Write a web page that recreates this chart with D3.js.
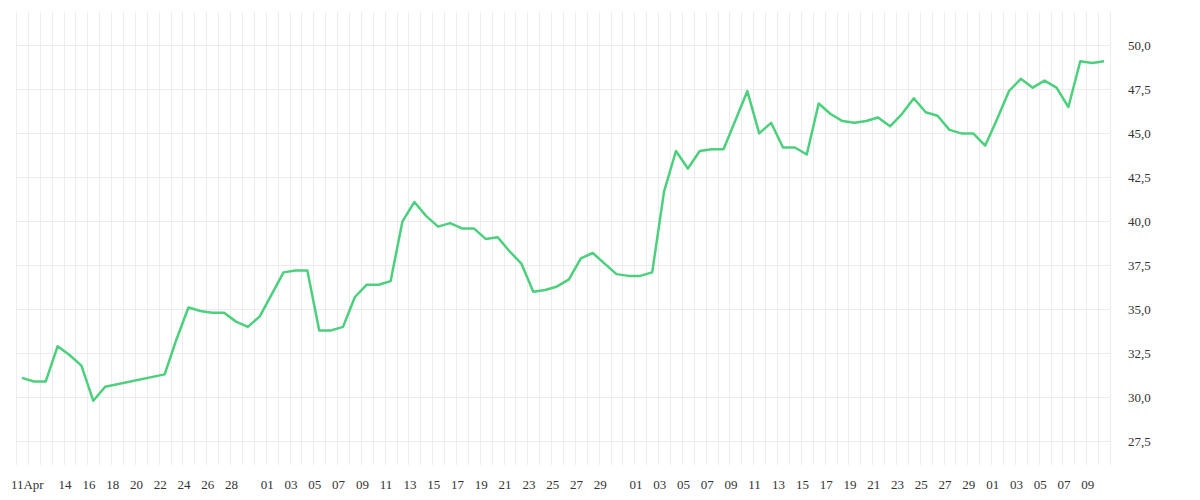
<!DOCTYPE html>
<html>
<head>
<meta charset="utf-8">
<script src="https://cdn.jsdelivr.net/npm/d3@7"></script>
<style>
  body { margin: 0; background: #fff; }
  text { font-family: "Liberation Serif", "DejaVu Serif", serif; font-size: 13px; fill: #333; }
</style>
</head>
<body>
<svg id="chart" width="1200" height="500"></svg>
<script>
const dates = [
    "2016-04-11", "2016-04-12", "2016-04-13", "2016-04-14", "2016-04-15", "2016-04-16", "2016-04-17", "2016-04-18",
    "2016-04-23", "2016-04-24", "2016-04-25", "2016-04-26", "2016-04-27", "2016-04-28", "2016-04-29", "2016-04-30",
    "2016-05-01", "2016-05-03", "2016-05-04", "2016-05-05", "2016-05-06", "2016-05-07", "2016-05-08", "2016-05-09",
    "2016-05-10", "2016-05-11", "2016-05-12", "2016-05-13", "2016-05-14", "2016-05-15", "2016-05-16", "2016-05-17",
    "2016-05-18", "2016-05-19", "2016-05-20", "2016-05-21", "2016-05-22", "2016-05-23", "2016-05-24", "2016-05-25",
    "2016-05-26", "2016-05-27", "2016-05-28", "2016-05-29", "2016-05-30", "2016-05-31", "2016-06-01", "2016-06-02",
    "2016-06-03", "2016-06-04", "2016-06-05", "2016-06-06", "2016-06-07", "2016-06-08", "2016-06-09", "2016-06-11",
    "2016-06-12", "2016-06-13", "2016-06-14", "2016-06-15", "2016-06-16", "2016-06-17", "2016-06-18", "2016-06-19",
    "2016-06-20", "2016-06-21", "2016-06-22", "2016-06-23", "2016-06-24", "2016-06-25", "2016-06-26", "2016-06-27",
    "2016-06-28", "2016-06-29", "2016-06-30", "2016-07-01", "2016-07-02", "2016-07-03", "2016-07-04", "2016-07-05",
    "2016-07-06", "2016-07-07", "2016-07-08", "2016-07-09", "2016-07-10", "2016-07-11"
];
const values = [
    31.1, 30.9, 30.9, 32.9, 32.4, 31.8, 29.8, 30.6,
    31.3, 33.3, 35.1, 34.9, 34.8, 34.8, 34.3, 34.0,
    34.6, 37.1, 37.2, 37.2, 33.8, 33.8, 34.0, 35.7,
    36.4, 36.4, 36.6, 40.0, 41.1, 40.3, 39.7, 39.9,
    39.6, 39.6, 39.0, 39.1, 38.3, 37.6, 36.0, 36.1,
    36.3, 36.7, 37.9, 38.2, 37.6, 37.0, 36.9, 36.9,
    37.1, 41.7, 44.0, 43.0, 44.0, 44.1, 44.1, 47.4,
    45.0, 45.6, 44.2, 44.2, 43.8, 46.7, 46.1, 45.7,
    45.6, 45.7, 45.9, 45.4, 46.1, 47.0, 46.2, 46.0,
    45.2, 45.0, 45.0, 44.3, 45.8, 47.4, 48.1, 47.6,
    48.0, 47.6, 46.5, 49.1, 49.0, 49.1
];
const yTicks = [27.5, 30, 32.5, 35, 37.5, 40, 42.5, 45, 47.5, 50];
const xTickDates = [
    "2016-04-11", "2016-04-14", "2016-04-16", "2016-04-18", "2016-04-20", "2016-04-22", "2016-04-24", "2016-04-26", "2016-04-28",
    "2016-05-01", "2016-05-03", "2016-05-05", "2016-05-07", "2016-05-09", "2016-05-11", "2016-05-13", "2016-05-15",
    "2016-05-17", "2016-05-19", "2016-05-21", "2016-05-23", "2016-05-25", "2016-05-27", "2016-05-29",
    "2016-06-01", "2016-06-03", "2016-06-05", "2016-06-07", "2016-06-09", "2016-06-11", "2016-06-13", "2016-06-15",
    "2016-06-17", "2016-06-19", "2016-06-21", "2016-06-23", "2016-06-25", "2016-06-27", "2016-06-29",
    "2016-07-01", "2016-07-03", "2016-07-05", "2016-07-07", "2016-07-09"
];

const parse = d3.timeParse("%Y-%m-%d");
const data = dates.map((d, i) => ({ date: parse(d), value: values[i] }));

const svg = d3.select("#chart");
const plot = { left: 16, right: 1110, top: 12, bottom: 465 };

const x = d3.scaleTime()
    .domain([d3.timeHour.offset(parse("2016-04-11"), -12), d3.timeHour.offset(parse("2016-07-11"), 12)])
    .range([plot.left, plot.right]);

const y = d3.scaleLinear()
    .domain([26.15, 51.9])
    .range([plot.bottom, plot.top]);

// grid
const grid = svg.append("g").attr("stroke", "#ececec").attr("stroke-width", 1);

const dayLines = d3.timeDay.range(parse("2016-04-11"), parse("2016-07-12"))
    .map(d => d3.timeHour.offset(d, 12));
grid.selectAll(".vline")
    .data(dayLines)
    .enter()
    .append("line")
    .attr("x1", d => Math.round(x(d)) + 0.5)
    .attr("x2", d => Math.round(x(d)) + 0.5)
    .attr("y1", plot.top)
    .attr("y2", plot.bottom);

grid.append("line")
    .attr("x1", plot.left + 0.5).attr("x2", plot.left + 0.5)
    .attr("y1", plot.top).attr("y2", plot.bottom);

grid.selectAll(".hline")
    .data(yTicks)
    .enter()
    .append("line")
    .attr("x1", plot.left)
    .attr("x2", plot.right)
    .attr("y1", d => Math.round(y(d)) + 0.5)
    .attr("y2", d => Math.round(y(d)) + 0.5);

// y labels
const fmt = d => d3.format(".1f")(d).replace(".", ",");
svg.selectAll(".ylab")
    .data(yTicks)
    .enter()
    .append("text")
    .attr("x", 1128)
    .attr("y", d => y(d) + 5)
    .text(fmt);

// x labels
svg.selectAll(".xlab")
    .data(xTickDates.map(parse))
    .enter()
    .append("text")
    .attr("x", (d, i) => x(d) + (i === 0 ? -11 : 1))
    .attr("y", 489)
    .text((d, i) => i === 0 ? d3.timeFormat("%d")(d) + "Apr" : d3.timeFormat("%d")(d));

// line
svg.append("path")
    .datum(data)
    .attr("fill", "none")
    .attr("stroke", "#4cd07d")
    .attr("stroke-width", 2.5)
    .attr("stroke-linejoin", "round")
    .attr("d", d3.line().x(d => x(d.date)).y(d => y(d.value)));
</script>
</body>
</html>
